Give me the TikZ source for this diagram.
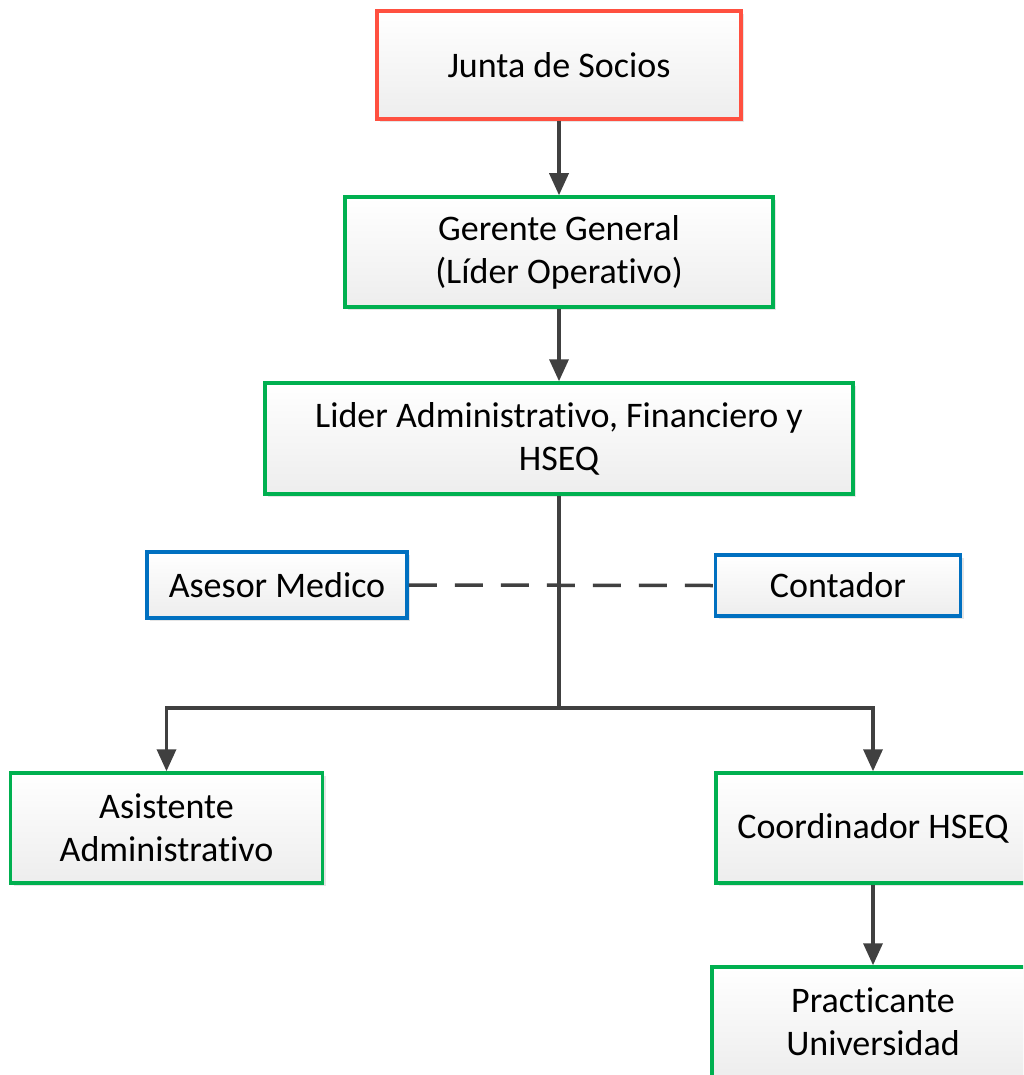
\documentclass[tikz,border=0pt]{standalone}
\usepackage{fontspec}
\setmainfont[Ligatures=NoCommon]{Carlito}
\usetikzlibrary{arrows.meta,shadows}
\definecolor{cred}{HTML}{FF5040}
\definecolor{cgreen}{HTML}{00B050}
\definecolor{cblue}{HTML}{0070C0}
\definecolor{cline}{HTML}{404040}
\tikzset{
  box/.style={rectangle, line width=3.5pt, top color=white, bottom color=black!7,
    align=center, inner sep=0pt, font=\fontsize{36}{43}\selectfont,
    drop shadow={shadow xshift=3pt, shadow yshift=-3pt, fill=black, opacity=0.10}},
  redbox/.style={box, draw=cred},
  greenbox/.style={box, draw=cgreen},
  bluebox/.style={box, draw=cblue},
  conn/.style={line width=3.5pt, draw=cline},
  arr/.style={conn, -{Triangle[length=22pt, width=19pt]}},
}
\begin{document}
\begin{tikzpicture}[x=1pt, y=-1pt]
\useasboundingbox (0,0) rectangle (1023,1075);
\clip (0,0) rectangle (1023,1075);
\fill[white] (0,0) rectangle (1023,1075);

\node[redbox, minimum width=364pt, minimum height=108pt] (junta) at (559,65) {Junta de Socios};
\node[greenbox, minimum width=428pt, minimum height=110pt] (gerente) at (559,252) {Gerente General\\(Líder Operativo)};
\node[greenbox, minimum width=588pt, minimum height=111pt] (lider) at (559,438.5) {Lider Administrativo, Financiero y\\HSEQ};
\node[bluebox, minimum width=260pt, minimum height=66pt] (asesor) at (277,585) {Asesor Medico};
\node[bluebox, minimum width=245pt, minimum height=61pt] (contador) at (838,585.5) {Contador};
\node[greenbox, minimum width=312pt, minimum height=110pt] (asistente) at (166.5,828) {Asistente\\Administrativo};
\node[greenbox, minimum width=314pt, minimum height=110pt] (coord) at (873,828) {Coordinador HSEQ};
\node[greenbox, minimum width=322pt, minimum height=110pt] (pract) at (873,1022) {Practicante\\Universidad};

\coordinate (split) at (559,708);
\coordinate (leftc) at (166.5,708);
\coordinate (rightc) at (873,708);

\draw[conn, dash pattern=on 28pt off 18pt] (asesor.east) -- (contador.west);
\draw[arr] (junta.south) -- (gerente.north);
\draw[arr] (gerente.south) -- (lider.north);
\draw[conn] (lider.south) -- (split);
\draw[arr] (split) -- (leftc) -- (asistente.north);
\draw[arr] (split) -- (rightc) -- (coord.north);
\draw[arr] (coord.south) -- (pract.north);
\end{tikzpicture}
\end{document}
